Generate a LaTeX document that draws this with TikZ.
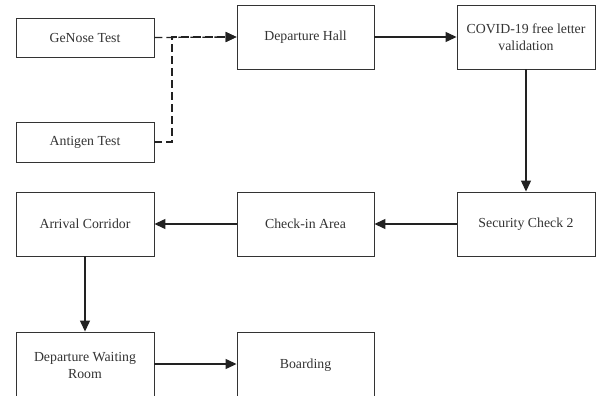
\documentclass[tikz,border=0pt]{standalone}
\usepackage{fontspec}
\setmainfont{Liberation Serif}
\usetikzlibrary{arrows.meta}
\definecolor{ink}{HTML}{222222}
\definecolor{frame}{HTML}{333333}
\definecolor{txt}{HTML}{333333}
\tikzset{
  stepbox/.style={draw=frame, line width=0.9pt, fill=white, inner sep=0pt,
    minimum width=138pt, minimum height=64pt, align=center,
    font=\fontsize{13.8}{17}\selectfont, text=txt},
  flow/.style={draw=ink, line width=1.3pt, -{Triangle[length=11pt,width=10pt]}},
  dashflow/.style={flow, dash pattern=on 8pt off 4pt}
}
\begin{document}
\begin{tikzpicture}[x=1pt, y=-1pt]
  \useasboundingbox (0,0) rectangle (597,396);
  % first row
  \node[stepbox, minimum height=39pt] (genose) at (85,37.5) {GeNose Test};
  \node[stepbox, minimum height=40pt] (antigen) at (85,142) {Antigen Test};
  \node[stepbox, minimum width=137pt] (hall) at (305.5,37) {Departure Hall};
  \node[stepbox] (covid) at (526,37) {COVID-19 free letter\\validation};
  % second row
  \node[stepbox] (security) at (526,224) {Security Check 2};
  \node[stepbox, minimum width=137pt] (checkin) at (305.5,224) {Check-in Area};
  \node[stepbox] (arrival) at (85,224) {Arrival Corridor};
  % third row
  \node[stepbox, minimum height=66pt] (waiting) at (85,365) {Departure Waiting\\Room};
  \node[stepbox, minimum width=137pt, minimum height=66pt] (boarding) at (305.5,365) {Boarding};
  % test results lead into the hall
  \coordinate (join) at (172,37);
  \draw[dashflow] (genose.east) -- (hall.west);
  \draw[dashflow] (antigen.east) -- (antigen.east -| join) -- (join) -- (hall.west);
  % main flow
  \draw[flow] (hall) -- (covid);
  \draw[flow] (covid) -- (security);
  \draw[flow] (security) -- (checkin);
  \draw[flow] (checkin) -- (arrival);
  \draw[flow] (arrival) -- (waiting);
  \draw[flow] (waiting.east |- 0,364) -- (boarding.west |- 0,364);
\end{tikzpicture}
\end{document}
